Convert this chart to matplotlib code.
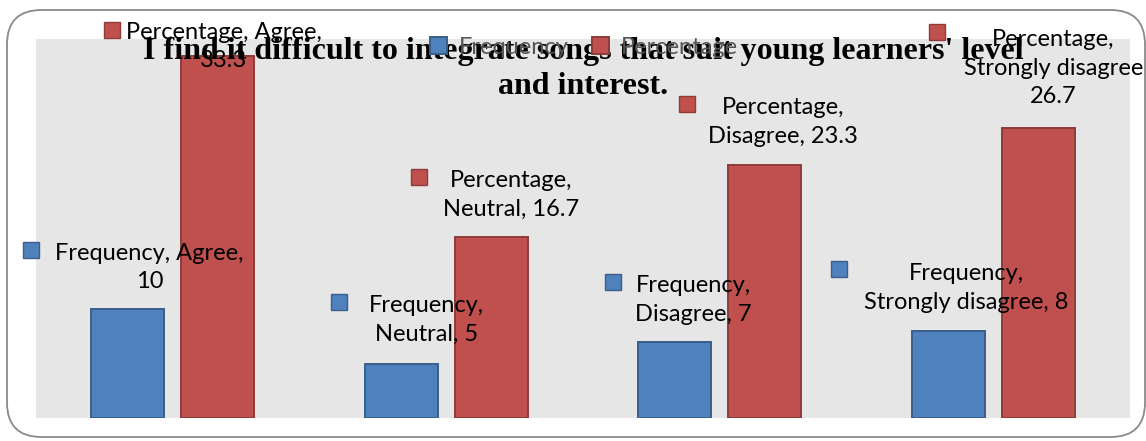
import matplotlib
matplotlib.use("Agg")
import matplotlib.pyplot as plt
import matplotlib.transforms as mtransforms
from matplotlib.patches import FancyBboxPatch
import numpy as np

categories = ["Agree", "Neutral", "Disagree", "Strongly disagree"]
frequency = [10, 5, 7, 8]
percentage = [33.3, 16.7, 23.3, 26.7]
title = "I find it difficult to integrate songs that suit young learners' level\nand interest."

# label text per bar (Excel style "Series, Category, Value")
freq_labels = ["Frequency, Agree,\n10", "Frequency,\nNeutral, 5",
               "Frequency,\nDisagree, 7", "Frequency,\nStrongly disagree, 8"]
perc_labels = ["Percentage, Agree,\n33.3", "Percentage,\nNeutral, 16.7",
               "Percentage,\nDisagree, 23.3", "Percentage,\nStrongly disagree\n26.7"]

# pixel offsets from the top-centre of each bar: text (dx, dy), key (dx, dy)
freq_text_off = [(22, 42), (25, 44), (19, 42), (18, 43)]
freq_key_off = [(-97, 59), (-62, 62), (-62, 60), (-109, 62)]
perc_text_off = [(6, 10), (20, 42), (18, 43), (15, 60)]
perc_key_off = [(-106, 26), (-72, 60), (-78, 61), (-101, 96)]

blue, blue_edge = "#4F81BD", "#3A5F8C"
red, red_edge = "#C0504D", "#8E3B39"

W, H = 1146, 441
fig = plt.figure(figsize=(W / 100, H / 100), dpi=100)

# rounded chart border
border = FancyBboxPatch((7 / W, 4 / H), 1138 / W, 427 / H,
                        boxstyle="round,pad=0,rounding_size=0.03",
                        transform=fig.transFigure, facecolor="none",
                        edgecolor="#8A8A8A", linewidth=1.3, mutation_aspect=W / H,
                        zorder=-1)
fig.patches.append(border)

ax = fig.add_axes([36 / W, (H - 418) / H, (1130 - 36) / W, (418 - 39) / H])
ax.set_facecolor("#E6E6E6")

x = np.arange(len(categories))
bw = 0.267
off = 0.165
b1 = ax.bar(x - off, frequency, bw, color=blue, edgecolor=blue_edge,
            linewidth=1.4, label="Frequency", zorder=2)
b2 = ax.bar(x + off, percentage, bw, color=red, edgecolor=red_edge,
            linewidth=1.4, label="Percentage", zorder=2)

ax.set_xlim(-0.5, 3.5)
ax.set_ylim(0, 34.9)
ax.set_xticks([])
ax.set_yticks([])
for s in ax.spines.values():
    s.set_visible(False)

lab_font = dict(family="Lato", fontsize=17, color="black")


def add_labels(xs, vals, labels, text_off, key_off, color, edge):
    for xi, v, lab, (tx, ty), (kx, ky) in zip(xs, vals, labels, text_off, key_off):
        tt = mtransforms.offset_copy(ax.transData, fig, x=tx, y=ty, units="dots")
        ax.text(xi, v, lab, transform=tt, ha="center", va="center",
                multialignment="center", linespacing=1.45, zorder=4, **lab_font)
        kt = mtransforms.offset_copy(ax.transData, fig, x=kx, y=ky, units="dots")
        ax.plot([xi], [v], marker="s", markersize=11, color=color,
                markeredgecolor=edge, markeredgewidth=1, transform=kt,
                clip_on=False, zorder=4)


add_labels(x - off, frequency, freq_labels, freq_text_off, freq_key_off, blue, blue_edge)
add_labels(x + off, percentage, perc_labels, perc_text_off, perc_key_off, red, red_edge)

leg = fig.legend(handles=[b1, b2], loc="center", bbox_to_anchor=(584 / W, 1 - 47 / H),
                 ncol=2, frameon=False, handlelength=0.7, handleheight=0.7,
                 handletextpad=0.5, columnspacing=1.0,
                 prop=dict(family="Lato", size=17))
for t in leg.get_texts():
    t.set_color("#555555")

fig.text(583 / W, 1 - 69 / H, title, ha="center", va="center", linespacing=1.27,
         family="Liberation Serif", fontweight="bold", fontsize=23, zorder=5)

fig.savefig("out.png", dpi=100)
